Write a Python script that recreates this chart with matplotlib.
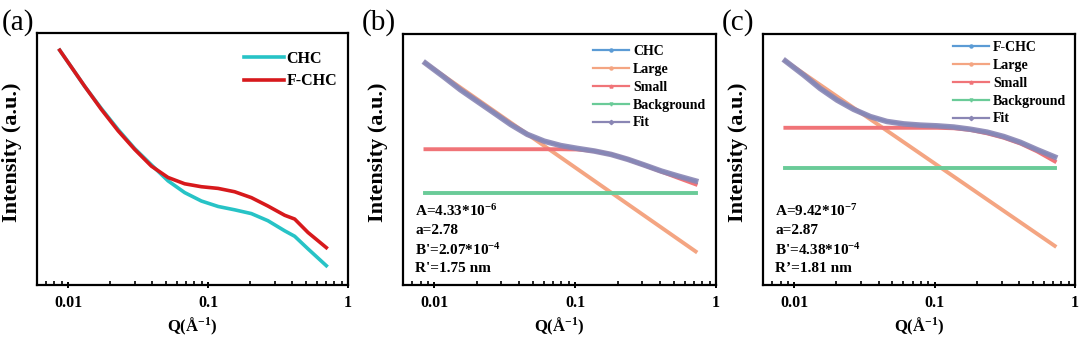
import matplotlib
matplotlib.use("Agg")
import matplotlib.pyplot as plt
from matplotlib.lines import Line2D
from matplotlib.ticker import LogLocator, NullFormatter, FixedLocator, FixedFormatter

plt.rcParams["font.family"] = ["Liberation Serif", "DejaVu Serif"]
plt.rcParams["font.weight"] = "bold"
plt.rcParams["mathtext.fontset"] = "custom"
plt.rcParams["mathtext.rm"] = "Liberation Serif:bold"
plt.rcParams["mathtext.bf"] = "Liberation Serif:bold"
plt.rcParams["mathtext.default"] = "bf"

# (a) measured curves, arbitrary log-intensity units
q_a = [0.00872, 0.01315, 0.0173, 0.0228, 0.0299, 0.0394, 0.0518, 0.0681, 0.0896,
       0.118, 0.155, 0.204, 0.268, 0.353, 0.416, 0.518, 0.70]
chc_a = [5.59, 4.73, 4.20, 3.70, 3.25, 2.86, 2.48, 2.20, 2.00,
         1.87, 1.79, 1.70, 1.53, 1.29, 1.16, 0.86, 0.46]
fchc_a = [5.59, 4.73, 4.18, 3.67, 3.23, 2.83, 2.56, 2.41, 2.34,
          2.30, 2.22, 2.08, 1.88, 1.66, 1.57, 1.25, 0.89]

# (b), (c) fit decomposition, arbitrary units
q_fit = [0.00866, 0.0117, 0.0153, 0.0202, 0.0265, 0.0349, 0.0458, 0.0603, 0.0792,
         0.104, 0.137, 0.180, 0.237, 0.311, 0.409, 0.537, 0.717]

data_b = [8.53, 8.00, 7.51, 7.06, 6.62, 6.17, 5.79, 5.53, 5.36,
          5.25, 5.15, 5.02, 4.83, 4.61, 4.38, 4.19, 4.00]
large_b = [8.53, 1.29]
small_b = [5.22, 5.22, 5.22, 5.22, 5.22, 5.22, 5.22, 5.22, 5.22,
           5.21, 5.15, 5.02, 4.83, 4.60, 4.36, 4.12, 3.87]
bg_b = [3.55, 3.55]

data_c = [9.22, 8.64, 8.09, 7.61, 7.23, 6.93, 6.73, 6.63, 6.58,
          6.55, 6.50, 6.41, 6.29, 6.11, 5.87, 5.57, 5.27]
large_c = [9.22, 1.61]
small_c = [6.47, 6.47, 6.47, 6.47, 6.47, 6.47, 6.47, 6.47, 6.47,
           6.47, 6.45, 6.38, 6.24, 6.06, 5.82, 5.50, 5.09]
bg_c = [4.82, 4.82]

params_b = ["A=4.33*10$^{-6}$", "a=2.78", "B'=2.07*10$^{-4}$", "R'=1.75 nm"]
params_c = ["A=9.42*10$^{-7}$", "a=2.87", "B'=4.38*10$^{-4}$", "R\u2019=1.81 nm"]

fig = plt.figure(figsize=(10.8, 3.39), dpi=100)
W, H = 1080, 339


def make_ax(left, right, top, bottom=285):
    ax = fig.add_axes([left / W, 1 - bottom / H, (right - left) / W, (bottom - top) / H])
    ax.set_xscale("log")
    ax.set_xlim(0.006, 1)
    for s in ax.spines.values():
        s.set_linewidth(1.6)
    ax.xaxis.set_major_locator(FixedLocator([0.01, 0.1, 1]))
    ax.xaxis.set_major_formatter(FixedFormatter(["0.01", "0.1", "1"]))
    ax.xaxis.set_minor_locator(LogLocator(base=10, subs=range(2, 10)))
    ax.xaxis.set_minor_formatter(NullFormatter())
    ax.tick_params(axis="x", which="major", direction="inout", length=5, width=1.4,
                   labelsize=11.5, pad=5)
    ax.tick_params(axis="x", which="minor", direction="in", length=3, width=1.2)
    ax.set_yticks([])
    ax.set_xlabel("Q(Å$^{-1}$)", fontsize=12, fontweight="bold")
    ax.xaxis.set_label_coords(0.5, -(337 - bottom) / (bottom - top))
    ax.xaxis.label.set_va("bottom")
    ax.set_ylabel("Intensity (a.u.)", fontsize=16, fontweight="bold")
    ax.yaxis.set_label_coords(-15 / (right - left), (bottom - 152) / (bottom - top))
    return ax


# panel (a)
ax1 = make_ax(37, 348, 33)
ax1.plot(q_a, chc_a, color="#27c3c6", lw=2.6, label="CHC", zorder=2)
ax1.plot(q_a, fchc_a, color="#d7191c", lw=2.6, label="F-CHC", zorder=3)
ax1.set_ylim(0, 6)
ax1.legend(loc="upper left", bbox_to_anchor=(244 / W, 1 - 51 / H),
           bbox_transform=fig.transFigure, frameon=False, fontsize=11.5,
           handlelength=2.5, handletextpad=0.15, labelspacing=0.39,
           borderaxespad=0, borderpad=0)
fig.text(2 / W, 1 - 30 / H, "(a)", fontsize=21, fontweight="normal")

colors = {"data": "#5b9bd5", "large": "#f4a582", "small": "#f07478",
          "bg": "#6acb98", "fit": "#8a86b4"}
markers = {"data": "o", "large": "o", "small": "^", "bg": "v", "fit": "D"}


def fit_panel(left, right, top, ymax, data, large, small, bg, name, params, label,
              leg_x, leg_y):
    ax = make_ax(left, right, top)
    qe = [q_fit[0], q_fit[-1]]
    ax.plot(qe, large, color=colors["large"], lw=2.8, zorder=2)
    ax.plot(qe, bg, color=colors["bg"], lw=2.8, zorder=2)
    ax.plot(q_fit, small, color=colors["small"], lw=2.8, zorder=3)
    ax.plot(q_fit, data, color=colors["data"], lw=2.0, zorder=4)
    ax.plot(q_fit, data, color=colors["fit"], lw=4.0, alpha=0.9, zorder=5)
    ax.set_ylim(0, ymax)
    handles = [Line2D([], [], color=colors[k], lw=1.6, marker=markers[k], ms=2.2)
               for k in ["data", "large", "small", "bg", "fit"]]
    ax.legend(handles, [name, "Large", "Small", "Background", "Fit"], loc="upper left",
              bbox_to_anchor=(leg_x / W, 1 - leg_y / H),
              bbox_transform=fig.transFigure, frameon=False, fontsize=10,
              handlelength=2.6, handletextpad=0.3, labelspacing=0.35,
              borderaxespad=0, borderpad=0)
    for y, t in zip([211, 231, 250, 268], params):
        ax.text(12 / (right - left), (285 - y) / (285 - top), t, transform=ax.transAxes,
                fontsize=11, fontweight="bold", va="center")
    fig.text((left - 41) / W, 1 - 30 / H, label, fontsize=21, fontweight="normal")
    return ax


fit_panel(403, 716, 34, 9.65, data_b, large_b, small_b, bg_b, "CHC", params_b, "(b)",
          593, 45)
fit_panel(763, 1075, 34, 10.33, data_c, large_c, small_c, bg_c, "F-CHC", params_c, "(c)",
          953, 41)

fig.savefig("out.png", dpi=100)
